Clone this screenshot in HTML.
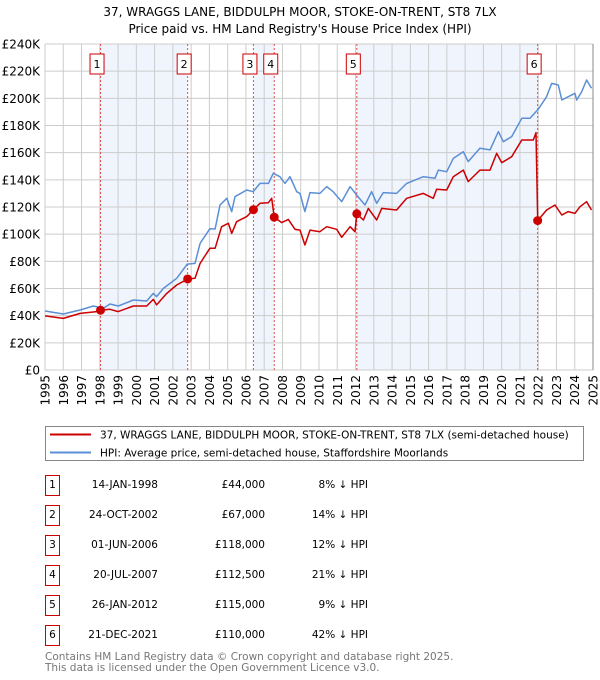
<!DOCTYPE html>
<html><head><meta charset="utf-8"><style>
body{margin:0;background:#fff;font-family:"DejaVu Sans","Liberation Sans",sans-serif;}
#wrap{position:relative;width:600px;height:680px;overflow:hidden;}
svg text{font-family:"DejaVu Sans","Liberation Sans",sans-serif;}
</style></head><body><div id="wrap">
<svg id="chart" width="600" height="680"></svg>
</div>
<script>
const hpiYears=[1995.0,1996.0,1996.92,1997.65,1998.19,1998.56,1999.01,1999.84,2000.57,2000.93,2001.11,2001.48,2002.21,2002.79,2003.21,2003.49,2004.03,2004.31,2004.58,2004.95,2005.22,2005.40,2006.04,2006.40,2006.77,2007.23,2007.50,2007.86,2008.14,2008.41,2008.78,2008.96,2009.23,2009.51,2010.05,2010.42,2010.78,2011.24,2011.70,2012.06,2012.52,2012.88,2013.16,2013.52,2014.25,2014.80,2015.71,2016.35,2016.53,2016.99,2017.35,2017.90,2018.17,2018.81,2019.36,2019.82,2020.09,2020.55,2021.10,2021.55,2022.00,2022.46,2022.74,2023.10,2023.29,2023.65,2024.01,2024.11,2024.38,2024.65,2024.92];
const hpiValues=[43.4,41.2,44.2,47.1,45.4,48.6,47.1,51.5,50.8,56.4,54,60.1,67.5,78,78.5,93.3,104,103.8,121.5,126.4,116.6,127.6,132.5,131.3,137.4,137.4,144.8,142.3,137.4,142.3,131.3,130,116.6,130.6,130,135,131.3,124,135,128.8,121.5,131.3,122.7,130.6,130,137.4,142.3,141.1,147.2,146,155.8,160.7,153.4,163.2,162,175.5,168.1,171.8,185.3,185.3,191.9,201.2,211,209.8,198.8,201.2,203.7,198.8,204.9,213.5,207.4];
const ppYears=[1995.0,1996.0,1996.92,1997.83,1998.04,1998.56,1999.01,1999.84,2000.57,2000.93,2001.11,2001.66,2002.21,2002.81,2003.21,2003.49,2004.03,2004.31,2004.67,2005.04,2005.22,2005.49,2006.04,2006.41,2006.77,2007.23,2007.41,2007.55,2007.96,2008.32,2008.69,2008.96,2009.23,2009.51,2010.05,2010.42,2010.97,2011.24,2011.70,2011.97,2012.07,2012.43,2012.70,2013.16,2013.43,2014.25,2014.80,2015.71,2016.26,2016.44,2016.99,2017.35,2017.90,2018.17,2018.81,2019.36,2019.73,2020.00,2020.55,2021.10,2021.73,2021.88,2021.97,2022.46,2022.92,2023.29,2023.65,2024.01,2024.29,2024.65,2024.92];
const ppValues=[39.8,38,41.7,43,44,44.7,43,47.1,47.1,52,47.9,56.4,62.6,67,67.5,78.5,89.6,89.6,105.5,108,100.6,109.2,112.9,118,122.7,123.2,126.4,112.5,108.5,110.9,103.5,103,92,103,101.8,105.5,103.6,97.7,105.5,101.8,115,110.4,119,110.4,119,117.8,126.4,130,126.4,133,132.5,142.3,147.2,138.7,147.2,147.2,159.5,152.6,157,169.3,169.3,174.7,110,117.8,121.5,114.1,116.6,115.3,120.2,123.9,117.8];
const saleLabels=["1","2","3","4","5","6"];
const saleYears=[1998.04,2002.81,2006.41,2007.55,2012.07,2021.97];
const saleValues=[44,67,118,112.5,115,110];
const saleDates=["14-JAN-1998","24-OCT-2002","01-JUN-2006","20-JUL-2007","26-JAN-2012","21-DEC-2021"];
const salePrices=["£44,000","£67,000","£118,000","£112,500","£115,000","£110,000"];
const salePcts=["8%","14%","12%","21%","9%","42%"];
const yTicks=[0,20,40,60,80,100,120,140,160,180,200,220,240];
const xTicks=[1995,1996,1997,1998,1999,2000,2001,2002,2003,2004,2005,2006,2007,2008,2009,2010,2011,2012,2013,2014,2015,2016,2017,2018,2019,2020,2021,2022,2023,2024,2025];

const X0=45,X1=593,Y0=370,Y1=44;
const xs=y=>X0+(y-1995)/30*(X1-X0);
const ys=v=>Y0-v/240*(Y0-Y1);
const svg=document.getElementById('chart');
const NS='http://www.w3.org/2000/svg';
function mk(tag,attrs,parent){const e=document.createElementNS(NS,tag);for(const k in attrs)e.setAttribute(k,attrs[k]);(parent||svg).appendChild(e);return e;}

for(let i=0;i<saleYears.length-1;i+=2){
  const r=mk('rect',{x:xs(saleYears[i]),y:Y1,width:xs(saleYears[i+1])-xs(saleYears[i]),height:Y0-Y1,fill:'#f0f4fd'});
  
  
}
yTicks.forEach(t=>{
  const l=mk('line',{x1:X0,x2:X1,y1:ys(t),y2:ys(t),stroke:'#cccccc','stroke-width':1});
  
  
  const tx=mk('text',{x:40,y:ys(t)+4.5,'text-anchor':'end','font-size':12,fill:'#000'});
  tx.textContent='£'+t+(t?'K':'');
  
  
});
xTicks.forEach(t=>{
  const l=mk('line',{x1:xs(t),x2:xs(t),y1:Y1,y2:Y0,stroke:'#cccccc','stroke-width':1});
  
  
  const tx=mk('text',{x:0,y:0,'text-anchor':'end','font-size':12,fill:'#000',transform:`translate(${xs(t)+4.5},375) rotate(-90)`});
  tx.textContent=t;
  
  
});
mk('line',{x1:X1,x2:X1,y1:Y1,y2:Y0,stroke:'#888','stroke-width':1});
saleYears.forEach((y,i)=>{
  const l=mk('line',{x1:xs(y),x2:xs(y),y1:Y1,y2:Y0,stroke:'#e05050','stroke-width':1,'stroke-dasharray':'2,2'});
  
  
  const g=mk('g',{});
  
  
  mk('rect',{x:xs(y)-10.5,y:54,width:14,height:20,fill:'#fff',stroke:'#cc0000','stroke-width':1},g);
  const t=mk('text',{x:xs(y)-3.5,y:68,'text-anchor':'middle','font-size':11,fill:'#000'},g);
  t.textContent=saleLabels[i];
});
function line(xa,va,color,name){
  const d=xa.map((x,i)=>(i?'L':'M')+xs(x).toFixed(1)+','+ys(va[i]).toFixed(1)).join('');
  const p=mk('path',{d:d,fill:'none',stroke:color,'stroke-width':1.5,'stroke-linejoin':'round'});
  
  
}
line(hpiYears,hpiValues,'#5b8fd6','hpi-line');
line(ppYears,ppValues,'#cc0000','price-paid-line');
saleYears.forEach((y,i)=>{
  const c=mk('circle',{cx:xs(y),cy:ys(saleValues[i]),r:4.5,fill:'#cc0000'});
  
  
});
[['37, WRAGGS LANE, BIDDULPH MOOR, STOKE-ON-TRENT, ST8 7LX',16],["Price paid vs. HM Land Registry's House Price Index (HPI)",33]].forEach(([s,y],i)=>{
  const t=mk('text',{x:300,y:y,'text-anchor':'middle','font-size':12,fill:'#000'});
  t.textContent=s;
  
  
});
const lg=mk('g',{});


mk('rect',{x:45.5,y:426.5,width:538,height:34,fill:'#fff',stroke:'#888'},lg);
mk('line',{x1:50,x2:91,y1:434.5,y2:434.5,stroke:'#cc0000','stroke-width':2},lg);
mk('line',{x1:50,x2:91,y1:452.5,y2:452.5,stroke:'#5b8fd6','stroke-width':2},lg);
const l1=mk('text',{x:100,y:438.5,'font-size':10.5,fill:'#000'},lg);l1.textContent='37, WRAGGS LANE, BIDDULPH MOOR, STOKE-ON-TRENT, ST8 7LX (semi-detached house)';
const l2=mk('text',{x:100,y:456.5,'font-size':10.5,fill:'#000'},lg);l2.textContent='HPI: Average price, semi-detached house, Staffordshire Moorlands';
saleLabels.forEach((s,i)=>{
  const y=475+i*30;
  const g=mk('g',{});
  
  
  mk('rect',{x:45.5,y:y+0.5,width:14,height:20,fill:'#fff',stroke:'#cc0000'},g);
  const a=mk('text',{x:52.5,y:y+13,'text-anchor':'middle','font-size':10.5},g);a.textContent=s;
  const b=mk('text',{x:158,y:y+13,'text-anchor':'end','font-size':10.5},g);b.textContent=saleDates[i];
  const c=mk('text',{x:265,y:y+13,'text-anchor':'end','font-size':10.5},g);c.textContent=salePrices[i];
  const d=mk('text',{x:368,y:y+13,'text-anchor':'end','font-size':10.5},g);d.textContent=salePcts[i]+' ↓ HPI';
});
const f1=mk('text',{x:45,y:660,'font-size':10.5,fill:'#777'});f1.textContent='Contains HM Land Registry data © Crown copyright and database right 2025.';

const f2=mk('text',{x:45,y:671,'font-size':10.5,fill:'#777'});f2.textContent='This data is licensed under the Open Government Licence v3.0.';

</script></body></html>
